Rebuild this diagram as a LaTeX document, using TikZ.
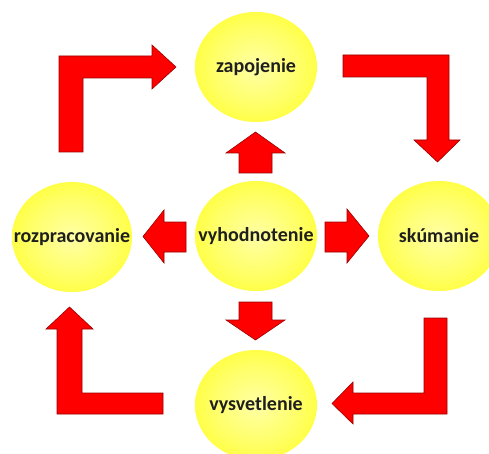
\documentclass[tikz,border=0pt]{standalone}
\usepackage{fontspec}
\setmainfont{Carlito}
\usetikzlibrary{shapes.geometric}
\pgfdeclareradialshading{ballshade}{\pgfpoint{0bp}{0bp}}{%
  color(0bp)=(yellow!35!white);
  color(18bp)=(yellow!60!white);
  color(38bp)=(yellow!95!white);
  color(50bp)=(yellow!95!orange);
  color(52bp)=(yellow!95!orange)}
\newcommand{\balltext}[1]{\makebox[0pt][c]{#1}}
\tikzset{
  ball/.style={ellipse, minimum width=122pt, minimum height=110pt, inner sep=0pt,
    shading=ballshade, font=\fontsize{20}{22}\selectfont\bfseries, text=black!88},
  blockarrow/.style={fill=red, draw=red!60!black, line width=0.6pt, line join=miter}
}
\begin{document}
\begin{tikzpicture}[x=1pt,y=-1pt]
\useasboundingbox (0,0) rectangle (489,454);
\fill[white] (0,0) rectangle (489,454);
% circles
\node[ball] (top) at (256,67) {\balltext{zapojenie}};
\node[ball] (mid) at (256,236) {\balltext{vyhodnotenie}};
\node[ball, minimum width=120pt] (left) at (72,237) {\balltext{rozpracovanie}};
\node[ball] (right) at (439,236) {\balltext{skúmanie}};
\node[ball] (bot) at (256,405) {\balltext{vysvetlenie}};
% straight arrows from centre
\draw[blockarrow] (239,173) -- (239,153) -- (226,153) -- (255.5,132) -- (285,153) -- (272,153) -- (272,173) -- cycle;
\draw[blockarrow] (239,302) -- (272,302) -- (272,320) -- (285,320) -- (255.5,340) -- (226,320) -- (239,320) -- cycle;
\draw[blockarrow] (186,222) -- (164,222) -- (164,210) -- (143,236.5) -- (164,263) -- (164,252) -- (186,252) -- cycle;
\draw[blockarrow] (325,222) -- (347,222) -- (347,209) -- (369,236) -- (347,263) -- (347,252) -- (325,252) -- cycle;
% L-shaped arrows
\draw[blockarrow] (59,152) -- (59,56) -- (152,56) -- (152,45) -- (176,67) -- (152,89) -- (152,78) -- (83,78) -- (83,152) -- cycle;
\draw[blockarrow] (343,55) -- (449,55) -- (449,140) -- (460,140) -- (437.5,162) -- (414,140) -- (427,140) -- (427,77) -- (343,77) -- cycle;
\draw[blockarrow] (69.5,307) -- (93,329) -- (82,329) -- (82,393) -- (163,393) -- (163,414) -- (57,414) -- (57,329) -- (46,329) -- cycle;
\draw[blockarrow] (424,318) -- (447,318) -- (447,414) -- (353,414) -- (353,424) -- (332,403.5) -- (353,382) -- (353,393) -- (424,393) -- cycle;
\end{tikzpicture}
\end{document}
